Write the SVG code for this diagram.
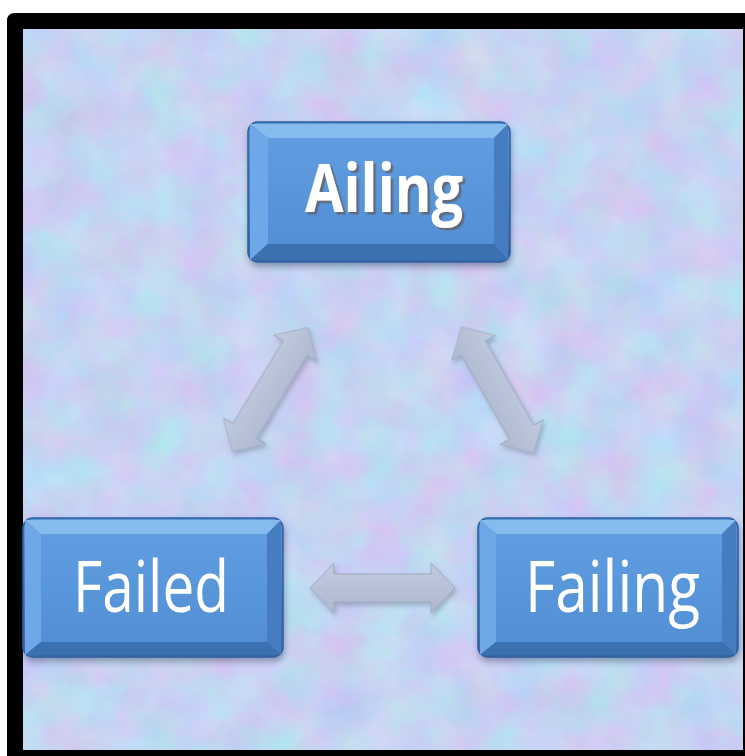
<svg xmlns="http://www.w3.org/2000/svg" width="745" height="756" viewBox="0 0 745 756">
<defs>
<filter id="tex" x="0" y="0" width="100%" height="100%" filterUnits="objectBoundingBox" color-interpolation-filters="sRGB">
<feTurbulence type="fractalNoise" baseFrequency="0.022" numOctaves="4" seed="7" result="n"/>
<feColorMatrix in="n" type="matrix" values="0.2 -0.05 0 0 0.7  -0.06 0.16 0 0 0.78  0 0 0.08 0 0.91  0 0 0 0 1"/>
</filter>
<filter id="sh" x="-10%" y="-10%" width="125%" height="130%">
<feDropShadow dx="1" dy="4" stdDeviation="3" flood-color="#334466" flood-opacity="0.45"/>
</filter>
<filter id="ash" x="-20%" y="-20%" width="140%" height="140%">
<feDropShadow dx="2" dy="3" stdDeviation="2" flood-color="#556077" flood-opacity="0.35"/>
</filter>
<filter id="tsh" x="-10%" y="-10%" width="130%" height="130%">
<feDropShadow dx="2.5" dy="2.5" stdDeviation="0.6" flood-color="#5f6b7d" flood-opacity="1"/>
</filter>
<linearGradient id="rim" x1="0" y1="0" x2="0" y2="1">
<stop offset="0" stop-color="#5b95d6"/>
<stop offset="1" stop-color="#3567a8"/>
</linearGradient>
<linearGradient id="face" x1="0" y1="0" x2="0" y2="1">
<stop offset="0" stop-color="#5f9de0"/>
<stop offset="1" stop-color="#538fd4"/>
</linearGradient>
<linearGradient id="arr" x1="0" y1="0" x2="0" y2="1">
<stop offset="0" stop-color="#c1cbdf"/>
<stop offset="1" stop-color="#adb8ce"/>
</linearGradient>
<path id="dbl" d="M-72.5,0 L-48.5,-25 L-48.5,-14 L48.5,-14 L48.5,-25 L72.5,0 L48.5,25 L48.5,14 L-48.5,14 L-48.5,25 Z"/>
</defs>
<style>
.rim{fill:url(#rim);stroke:#2f5f9e;stroke-width:1.5}
.face{fill:url(#face)}
.bt{fill:#86bbee}
.bl{fill:#6ea8e6}
.br{fill:#457dc0}
.bb{fill:#3b6fb1}
.lbl{font-family:"Open Sans","Liberation Sans",sans-serif;fill:#ffffff;text-anchor:middle}
.arrow{fill:url(#arr);stroke:#9fabc1;stroke-width:1}
</style>

<path d="M15,13 H745 V756 H7 V21 Q7,13 15,13 Z" fill="#000"/>
<rect x="23" y="29" width="720" height="721" fill="#c6d5f1" filter="url(#tex)"/>

<g id="connectors" filter="url(#ash)">
<use href="#dbl" class="arrow" transform="translate(382.5,588)"/>
<use href="#dbl" class="arrow" transform="translate(270,389.5) rotate(-58.7)"/>
<use href="#dbl" class="arrow" transform="translate(497.5,390) rotate(60.2)"/>
</g>

<g id="node-ailing" filter="url(#sh)">
<rect class="rim" x="248" y="122" width="262" height="140" rx="10"/>
<polygon class="bt" points="250,124 508,124 494,138 268,138"/>
<polygon class="bl" points="250,124 268,138 268,244 250,260"/>
<polygon class="br" points="508,124 508,260 494,244 494,138"/>
<polygon class="bb" points="250,260 268,244 494,244 508,260"/>
<rect class="face" x="268" y="138" width="226" height="106"/>
<text class="lbl" x="384" y="212" font-size="66" font-weight="bold" textLength="158" lengthAdjust="spacingAndGlyphs" filter="url(#tsh)">Ailing</text>
</g>

<g id="node-failed" filter="url(#sh)">
<rect class="rim" x="23" y="518" width="260" height="139" rx="10"/>
<polygon class="bt" points="25,520 281,520 267,534 41,534"/>
<polygon class="bl" points="25,520 41,534 41,642 25,655"/>
<polygon class="br" points="281,520 281,655 267,642 267,534"/>
<polygon class="bb" points="25,655 41,642 267,642 281,655"/>
<rect class="face" x="41" y="534" width="226" height="108"/>
<text class="lbl" x="151" y="612" font-size="72" textLength="156" lengthAdjust="spacingAndGlyphs">Failed</text>
</g>

<g id="node-failing" filter="url(#sh)">
<rect class="rim" x="478" y="518" width="260" height="139" rx="10"/>
<polygon class="bt" points="480,520 736,520 722,534 496,534"/>
<polygon class="bl" points="480,520 496,534 496,642 480,655"/>
<polygon class="br" points="736,520 736,655 722,642 722,534"/>
<polygon class="bb" points="480,655 496,642 722,642 736,655"/>
<rect class="face" x="496" y="534" width="226" height="108"/>
<text class="lbl" x="612.5" y="612" font-size="72" textLength="175" lengthAdjust="spacingAndGlyphs">Failing</text>
</g>
</svg>
